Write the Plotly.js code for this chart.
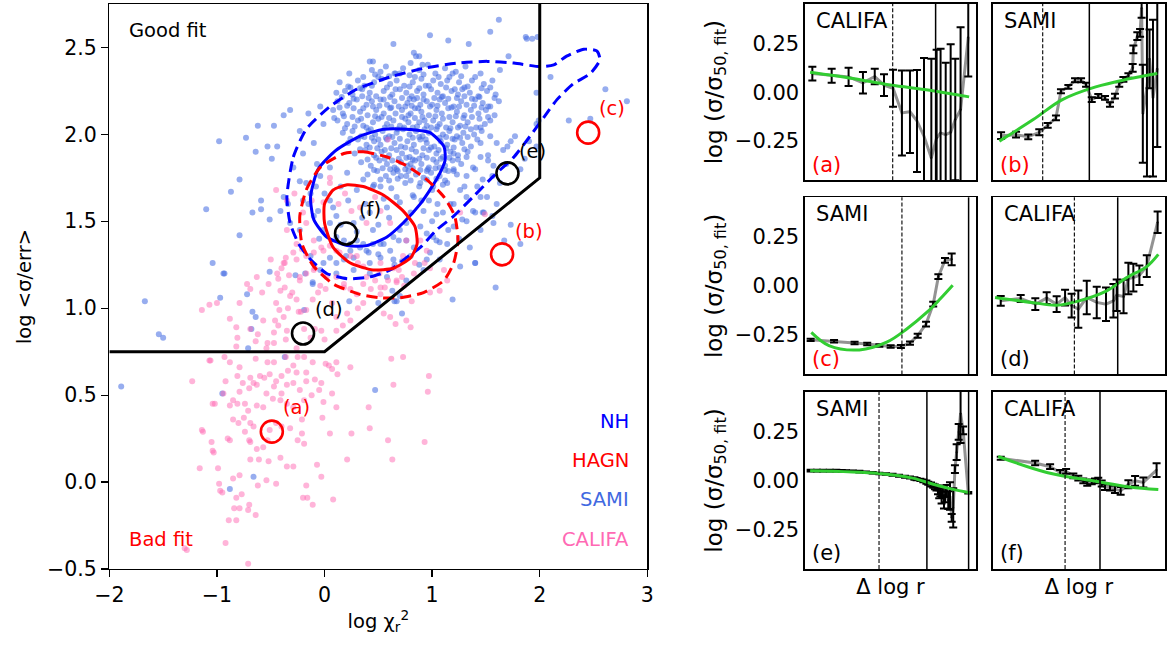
<!DOCTYPE html>
<html><head><meta charset="utf-8">
<script src="https://cdn.plot.ly/plotly-3.0.1.min.js"></script>
<style>html,body{margin:0;padding:0;background:#fff}#plot{width:1167px;height:646px}</style>
</head><body><div id="plot"></div>
<script>
// ---------- main panel data ----------
const samiPts = [
[1.62,2.66],[1.54,2.59],[1.34,2.52],[1.15,2.54],[0.98,2.57],[0.64,2.52],[0.45,2.42],[0.42,2.42],[0.80,2.41],[0.83,2.47],[0.88,2.45],[1.71,2.45],[1.88,2.55],[1.98,2.56],[1.63,2.37],[1.97,2.24],[2.61,2.26],[2.47,2.09],[2.27,2.08],[2.10,2.33],[1.97,2.06],[1.90,1.96],[1.97,1.93],[1.86,1.86],[1.82,1.80],[1.73,1.96],[1.66,1.91],[1.52,1.88],[1.57,1.82],[1.47,1.74],[1.42,1.70],[1.32,1.64],[1.45,1.64],[1.48,1.55],[1.57,1.49],[1.32,1.50],[1.20,1.47],[1.14,1.37],[1.04,1.39],[1.26,1.24],[1.59,1.12],[1.82,1.37],[1.73,1.48],
[-0.32,2.14],[-0.23,2.02],[-0.15,2.12],[-0.04,2.16],[-0.01,2.06],[-0.10,1.95],[-0.20,1.89],[-0.29,1.81],[-0.38,1.64],[-0.34,1.60],[-0.41,1.56],[-0.23,1.73],[-0.13,1.66],[0.11,2.24],[0.24,2.27],[0.14,2.30],[0.36,2.33],[0.52,2.36],[0.66,2.35],[0.23,2.35],
[0.85,2.45],[0.91,2.40],[1.87,2.56],[1.93,2.55],[2.81,2.19],[1.99,2.08],[1.77,1.99],[1.70,1.93],[1.52,1.85],[1.56,1.76],[1.40,1.55],[1.28,1.51],[1.40,1.26],[1.47,1.55],[-0.98,1.96],[-1.10,1.57],[-0.79,1.74],[-0.87,1.67],[-0.62,2.05],[-0.47,2.05],[-0.73,1.98],[-0.64,1.90],[-0.53,1.93],[-0.44,1.93],[-0.49,1.86],[-0.59,1.62],[-0.59,1.57],[-0.67,1.55],[-0.51,1.51],[-1.04,1.26],[-0.94,1.20],[-0.38,2.11],[1.56,1.53],[1.67,1.39],
[-0.32,1.49],[-0.23,1.45],[-0.10,1.53],[-0.01,1.45],[-0.13,1.30],[-0.04,1.22],[0.11,1.20],[0.27,1.22],[0.42,1.20],[0.58,1.18],[0.76,1.16],[0.92,1.22],[1.07,1.28],[1.01,1.41],[0.89,1.47],[0.76,1.49],[0.64,1.41],[0.52,1.37],[0.39,1.33],[0.24,1.37],[0.11,1.41],[0.05,1.49],[-0.06,1.56],[0.11,1.53],[0.27,1.49],[0.42,1.55],[0.58,1.58],[0.67,1.64],[0.52,1.70],[0.36,1.74],[0.21,1.78],[0.05,1.81],[-0.07,1.83],[-0.04,1.76],[-0.17,1.72],[-0.20,1.62],[0.83,1.64],[0.92,1.56],[1.04,1.54],[1.17,1.60],[1.26,1.68],[1.14,1.72],[1.01,1.70],[0.89,1.72],[0.76,1.76],[0.67,1.80],[0.80,1.83],[0.95,1.79],[1.07,1.81],[1.20,1.79],[1.32,1.76],[1.38,1.81],[1.45,1.87],[1.32,1.87],[1.20,1.89],[1.60,1.95],[1.54,1.99],[1.45,1.95],[1.69,1.83],[1.63,1.72],[1.51,1.64],[1.60,1.60],[1.38,1.56],
[-0.15,1.60],[-0.08,1.70],[0.00,1.66],[0.08,1.58],[0.15,1.70],[0.22,1.62],[0.30,1.68],[0.38,1.60],[0.45,1.70],[0.15,1.48],[0.30,1.44],[0.45,1.45],[0.60,1.52],[0.70,1.45],[0.80,1.55],[0.90,1.62],[1.00,1.50],[1.10,1.55],[1.15,1.45],[0.95,1.43],[0.05,1.62],[0.35,1.52],[0.50,1.48],[-0.05,1.40],[0.20,1.30],[0.50,1.31],[0.65,1.25],[0.80,1.30],[0.95,1.28],[1.25,1.40],[1.35,1.35],[1.45,1.45],[1.20,1.60],[1.30,1.70],[1.40,1.80],
[0.47,0.53],[-0.95,0.51],[-0.88,-0.04],[-0.66,0.03],[-0.37,0.72],[-0.71,0.77],[-0.93,1.20],[-0.97,1.06],[-0.72,1.08],[-0.67,0.98],[-0.64,0.95],[-0.68,0.88],[-1.54,0.85],[-1.50,0.83],[-0.79,1.42],[-0.51,1.21],[-0.27,1.19],[1.19,1.05],[1.40,1.26],[0.88,1.25],[0.98,1.32],[1.07,1.38],[0.23,1.04],[0.67,1.04],[0.50,1.03],[0.63,1.10],[0.70,1.07],[-0.11,1.15],[-0.19,0.99],[-1.89,0.55],[-1.67,1.04],[0.72,0.97],[0.65,1.04],
[-0.18,1.20],[-0.11,1.14],[0.05,1.29],[-0.01,1.26],[0.11,1.26],[0.18,1.28],[0.27,1.29],[0.24,1.33],[0.33,1.35],[0.41,1.32],[0.45,1.37],[0.55,1.37],[0.61,1.33],[0.69,1.39],[0.76,1.39],[0.83,1.35],[0.42,1.26],[0.52,1.29],[0.64,1.28],[0.72,1.27],[0.36,1.37],[0.30,1.39],[0.18,1.39],
[0.44,2.37],[0.57,2.39],[0.65,2.35],[0.73,2.38],[0.79,2.34],[0.88,2.37],[0.96,2.40],[1.03,2.35],[1.12,2.38],[1.22,2.36],[1.31,2.39],[1.45,2.35],[0.50,2.33],[1.16,2.33],
[0.31,2.31],[0.37,2.28],[0.46,2.30],[0.53,2.32],[0.61,2.29],[0.67,2.31],[0.74,2.28],[0.82,2.30],[0.90,2.32],[0.94,2.28],[1.01,2.31],[1.08,2.29],[1.14,2.31],[1.25,2.30],[1.30,2.27],[1.37,2.31],[1.48,2.29],[1.56,2.31],
[0.19,2.25],[0.26,2.23],[0.35,2.26],[0.42,2.24],[0.48,2.22],[0.55,2.25],[0.63,2.23],[0.70,2.26],[0.76,2.24],[0.81,2.22],[0.86,2.25],[0.92,2.23],[0.99,2.26],[1.05,2.24],[1.10,2.22],[1.18,2.25],[1.24,2.23],[1.28,2.26],[1.35,2.24],[1.43,2.22],[1.51,2.25],[1.59,2.23],[0.72,2.21],[1.02,2.21],
[0.12,2.19],[0.23,2.18],[0.30,2.20],[0.39,2.17],[0.44,2.19],[0.52,2.20],[0.58,2.17],[0.65,2.19],[0.69,2.16],[0.77,2.18],[0.83,2.20],[0.89,2.17],[0.95,2.19],[1.00,2.17],[1.07,2.20],[1.12,2.18],[1.20,2.16],[1.27,2.19],[1.32,2.17],[1.40,2.20],[1.47,2.18],[1.54,2.16],[1.62,2.19],
[0.08,2.14],[0.17,2.12],[0.27,2.15],[0.33,2.13],[0.40,2.11],[0.48,2.14],[0.55,2.12],[0.61,2.15],[0.66,2.12],[0.72,2.14],[0.80,2.12],[0.84,2.15],[0.90,2.13],[0.97,2.11],[1.04,2.14],[1.09,2.12],[1.15,2.15],[1.23,2.13],[1.30,2.11],[1.36,2.14],[1.43,2.12],[1.50,2.14],[1.58,2.11],[0.75,2.09],[0.93,2.08],
[0.12,2.08],[0.21,2.06],[0.31,2.08],[0.36,2.05],[0.45,2.07],[0.50,2.09],[0.58,2.06],[0.64,2.08],[0.70,2.05],[0.78,2.07],[0.82,2.04],[0.88,2.07],[0.95,2.05],[1.01,2.08],[1.07,2.06],[1.13,2.04],[1.19,2.07],[1.26,2.05],[1.33,2.07],[1.41,2.04],[1.49,2.06],[1.54,2.08],
[0.17,2.01],[0.26,2.02],[0.34,1.99],[0.41,2.02],[0.47,2.00],[0.54,2.02],[0.60,1.99],[0.67,2.01],[0.73,2.03],[0.79,2.00],[0.85,2.02],[0.91,1.99],[0.97,2.01],[1.04,2.03],[1.10,2.00],[1.16,2.02],[1.23,1.99],[1.29,2.01],[1.39,2.00],[1.46,2.02],
[0.22,1.95],[0.31,1.97],[0.39,1.94],[0.46,1.96],[0.52,1.94],[0.58,1.97],[0.65,1.95],[0.71,1.93],[0.77,1.96],[0.83,1.94],[0.89,1.97],[0.95,1.95],[1.02,1.93],[1.08,1.96],[1.14,1.94],[1.21,1.97],[1.28,1.95],[1.36,1.93],
[0.28,1.89],[0.38,1.91],[0.46,1.88],[0.53,1.90],[0.60,1.88],[0.67,1.91],[0.72,1.89],[0.79,1.87],[0.85,1.90],[0.91,1.88],[0.97,1.91],[1.04,1.89],[1.10,1.87],[1.17,1.90],[1.24,1.88],[1.33,1.90],
[0.34,1.84],[0.43,1.82],[0.51,1.85],[0.58,1.83],[0.65,1.81],[0.71,1.84],[0.77,1.82],[0.84,1.85],[0.90,1.83],[0.97,1.81],[1.04,1.84],[1.12,1.82],[1.19,1.85],[1.27,1.83],
[0.40,1.77],[0.49,1.79],[0.57,1.76],[0.64,1.78],[0.71,1.76],[0.78,1.79],[0.85,1.77],[0.92,1.75],[0.99,1.78],[1.07,1.76],[1.15,1.79],[1.23,1.77],
[0.46,1.71],[0.62,1.69],[0.75,1.72],[0.88,1.70],[1.00,1.68],[1.10,1.71],[0.55,1.63],[0.70,1.61],[0.82,1.65],[0.97,1.62],[1.05,1.60],
[0.47,2.345],[0.60,2.335],[0.70,2.35],[0.84,2.33],[0.92,2.345],[1.06,2.33],[1.19,2.35],[1.27,2.335],[1.40,2.33],
[0.22,2.275],[0.33,2.265],[0.44,2.28],[0.58,2.27],[0.66,2.26],[0.79,2.275],[0.88,2.265],[0.97,2.28],[1.13,2.27],[1.21,2.26],[1.33,2.275],[1.46,2.265],[1.54,2.27],
[0.16,2.215],[0.27,2.205],[0.35,2.22],[0.41,2.21],[0.55,2.20],[0.61,2.215],[0.79,2.205],[0.86,2.21],[0.92,2.20],[1.09,2.215],[1.15,2.205],[1.23,2.21],[1.30,2.22],[1.37,2.205],[1.44,2.215],[1.58,2.21],
[0.14,2.155],[0.21,2.165],[0.36,2.15],[0.45,2.16],[0.51,2.165],[0.62,2.155],[0.75,2.16],[0.81,2.165],[0.87,2.15],[0.98,2.16],[1.05,2.165],[1.18,2.155],[1.25,2.16],[1.39,2.165],[1.46,2.155],[1.52,2.16],
[0.09,2.095],[0.18,2.105],[0.26,2.10],[0.34,2.09],[0.47,2.105],[0.53,2.10],[0.60,2.095],[0.72,2.10],[0.78,2.11],[0.84,2.095],[0.91,2.10],[1.03,2.105],[1.10,2.09],[1.16,2.10],[1.22,2.105],[1.29,2.095],[1.37,2.10],[1.44,2.09],[1.52,2.10],
[0.19,2.035],[0.28,2.045],[0.39,2.04],[0.43,2.03],[0.56,2.04],[0.62,2.045],[0.68,2.03],[0.74,2.04],[0.86,2.045],[0.93,2.03],[0.99,2.04],[1.05,2.045],[1.17,2.035],[1.24,2.04],[1.31,2.045],[1.36,2.03],[1.45,2.04],
[0.24,1.975],[0.37,1.985],[0.44,1.98],[0.50,1.97],[0.57,1.98],[0.63,1.985],[0.70,1.975],[0.82,1.98],[0.88,1.985],[0.94,1.97],[1.07,1.98],[1.13,1.985],[1.19,1.975],[1.26,1.98],[1.33,1.985],[1.42,1.97],
[0.33,1.915],[0.42,1.925],[0.49,1.92],[0.56,1.91],[0.62,1.92],[0.75,1.925],[0.81,1.915],[0.92,1.92],[0.99,1.925],[1.06,1.91],[1.13,1.92],[1.20,1.925],[1.30,1.915],
[0.40,1.855],[0.48,1.865],[0.56,1.86],[0.63,1.85],[0.69,1.86],[0.76,1.865],[0.82,1.855],[0.88,1.86],[0.95,1.865],[1.01,1.855],[1.08,1.86],[1.16,1.865],[1.24,1.855],
[0.46,1.795],[0.54,1.805],[0.61,1.80],[0.68,1.79],[0.75,1.80],[0.82,1.805],[0.89,1.795],[0.96,1.80],[1.03,1.805],[1.12,1.795],[1.20,1.80],
[0.52,1.74],[0.60,1.735],[0.68,1.745],[0.80,1.735],[0.95,1.74],[1.04,1.745],[1.12,1.735]
];
const califaPts = [
[-1.06,0.70],[-0.93,0.72],[-1.23,0.58],[-0.79,0.66],[-0.69,0.60],[-0.64,0.71],[-0.53,0.69],[-0.47,0.69],[-0.36,0.72],[-0.29,0.67],[-0.25,0.72],[-0.19,0.72],[-0.11,0.69],[-0.17,0.63],[-0.26,0.63],[-0.34,0.64],[-0.40,0.61],[-0.45,0.58],[-0.51,0.62],[-0.56,0.60],[-0.60,0.61],[-0.63,0.56],[-0.66,0.57],[-0.70,0.54],[-0.76,0.57],[-0.81,0.61],[-0.79,0.52],[-0.85,0.47],[-0.81,0.45],[-0.74,0.45],[-0.71,0.41],[-0.63,0.44],[-0.57,0.43],[-0.54,0.51],[-0.47,0.55],[-0.40,0.51],[-0.35,0.56],[-0.29,0.57],[-0.23,0.53],[-0.17,0.58],[-0.09,0.59],[-0.05,0.53],[0.01,0.68],[0.04,0.67],[0.11,0.69],[0.07,0.65],[0.12,0.62],[-0.03,0.57],[0.07,0.51],[-0.01,0.46],[-0.12,0.50],[-0.19,0.47],[-0.29,0.43],[-0.35,0.45],[-0.41,0.47],[-0.48,0.48],
[-1.04,0.45],[-1.02,0.45],[-0.94,0.51],[-0.88,0.44],[-0.85,0.36],[-0.80,0.34],[-0.75,0.37],[-0.69,0.34],[-0.66,0.32],[-0.74,0.29],[-0.70,0.24],[-0.69,0.23],[-0.63,0.19],[-0.57,0.20],[-0.53,0.24],[-0.51,0.30],[-0.45,0.34],[-0.40,0.32],[-0.32,0.31],[-0.25,0.24],[-0.19,0.22],[-0.21,0.36],[-0.21,0.28],[-0.88,0.24],[-0.90,0.25],[-1.05,0.23],[-1.13,0.29],[-1.16,0.08],[-0.99,0.08],[-0.97,-0.05],[-0.95,-0.06],[-0.82,-0.09],[-0.77,-0.07],[-0.84,-0.15],[-0.79,-0.15],[-0.70,-0.13],[-0.71,-0.16],[-0.64,-0.19],[-0.82,-0.22],[-0.89,-0.22],[-0.85,0.02],[-1.03,0.17],[-0.69,0.13],[-0.61,0.13],[-0.52,0.12],[-0.54,0.01],[-0.62,-0.02],[-0.45,-0.01],[-0.41,0.14],[-0.35,0.09],[-0.29,0.09],[-0.17,-0.02],[-0.20,-0.09],[-0.16,-0.09],[-0.11,-0.13],[-0.07,0.10],[-0.03,0.03],[0.08,-0.10],[0.21,0.13],[0.42,0.31],[0.59,0.24],[0.63,0.13],[0.93,0.23],[0.97,0.61],[0.96,0.52],[0.64,0.56],[0.73,0.72],[0.62,0.71],[0.05,0.28],[-0.02,0.37],[0.11,0.43],[0.24,0.66],[0.41,0.43],[-1.28,-0.39],[-0.92,-0.35],[-0.71,-0.47],[-0.98,-0.01],[-0.79,0.04],[-0.92,0.58],[-0.88,0.69],[-1.30,-0.38],[-1.14,0.30],[-1.04,0.18],[-1.07,0.70],[0.25,0.28],
[-1.14,0.99],[-1.07,1.02],[-1.00,1.03],[-0.81,0.83],[-0.82,0.78],[-0.69,0.88],[-0.54,0.77],[-0.53,0.80],[-0.47,0.86],[-0.43,0.90],[-0.42,0.99],[-0.45,1.03],[-0.41,1.10],[-0.37,1.12],[-0.32,1.07],[-0.30,1.09],[-0.26,1.05],[-0.22,0.98],[-0.17,0.99],[-0.11,1.05],[-0.06,1.09],[-0.04,1.13],[0.01,1.11],[0.07,1.03],[0.11,0.95],[0.21,0.97],[0.24,0.93],[0.17,0.90],[0.11,0.87],[0.00,0.82],[-0.03,0.87],[-0.09,0.88],[-0.13,0.83],[-0.19,0.88],[-0.24,0.98],[-0.34,1.00],[-0.38,0.95],[-0.46,0.93],[-0.57,0.93],[-0.62,0.85],[-0.64,0.81],[-0.47,0.80],[-0.36,0.82],[-0.26,0.77],[-0.35,0.87],[0.31,1.00],[0.36,1.03],[0.30,1.08],[0.24,1.11],[0.18,1.14],[0.11,1.18],[-0.01,1.20],[-0.09,1.23],[-0.17,1.20],[-0.23,1.16],[-0.33,1.19],[-0.40,1.23],[-0.44,1.20],[-0.50,1.28],[-0.37,1.26],[-0.43,1.17],[-0.63,1.18],[-0.52,1.14],[-0.58,1.09],[-0.69,1.11],[-0.72,1.14],[-0.79,1.03],[-0.88,0.94],[-0.82,0.89],[0.43,1.11],[0.52,1.08],[0.56,1.12],[0.59,1.16],[0.67,1.15],[0.74,1.13],[0.55,0.97],[0.61,0.95],[0.66,0.91],[0.80,0.89],[0.76,0.93],[0.81,1.04],[0.98,1.09],[1.07,1.10],[1.14,1.16],[1.11,1.22],[0.93,1.26],[0.64,1.23],[0.69,1.22],[0.72,1.18],[0.39,1.18],[0.47,1.16],[0.51,1.20],[0.36,1.24],[0.31,1.26],[0.24,1.30],[0.11,1.33],[0.05,1.36],[-0.03,1.35],[-0.10,1.32],[-0.17,1.30],[-0.21,1.34],[-0.26,1.28],[-0.29,1.32],[-0.36,1.29],
[-0.01,1.61],[0.13,1.60],[0.25,1.56],[0.33,1.58],[0.19,1.66],[0.05,1.72],[0.59,1.97],[0.47,1.64],[0.39,1.49],[0.52,1.56],[0.61,1.49],[0.76,1.39],[0.89,1.39],[0.95,1.33],[0.84,1.26],[0.73,1.30],[0.52,1.26],[0.30,1.30],[0.14,1.32],[-0.01,1.33],[-0.10,1.39],[-0.17,1.49],[-0.26,1.37],[-0.35,1.45],[-0.38,1.26],[-0.23,1.18],[-0.10,1.22],[0.02,1.18],[0.18,1.12],[0.36,1.14],[0.52,1.12],[0.67,1.16],[0.83,1.20],[0.98,1.23],[1.26,1.55],[1.49,1.54],[-0.35,1.62],[-0.28,1.66],[-0.45,1.68],[-0.20,1.55],[-0.12,1.62],[0.05,1.75]
];
const samiX = samiPts.map(p => p[0]), samiY = samiPts.map(p => p[1]);
const califaX = califaPts.map(p => p[0]), califaY = califaPts.map(p => p[1]);

// contours (NH blue, HAGN red)
const nhOuterX = [-0.35,-0.29,-0.17,0.05,0.30,0.61,0.92,1.23,1.51,1.76,2.00,2.13,2.25,2.41,2.53,2.56,2.47,2.31,2.16,2.04,1.91,1.76,1.57,1.38,1.20,1.04,0.89,0.76,0.61,0.42,0.21,0.02,-0.13,-0.24,-0.32,-0.35];
const nhOuterY = [1.64,1.87,2.03,2.16,2.26,2.33,2.38,2.41,2.42,2.41,2.39,2.40,2.45,2.49,2.48,2.43,2.35,2.29,2.20,2.10,1.99,1.87,1.76,1.64,1.53,1.45,1.35,1.29,1.22,1.18,1.17,1.20,1.28,1.37,1.49,1.64];
const nhInnerX = [0.76,0.98,1.11,1.12,1.04,0.89,0.73,0.58,0.39,0.21,0.02,-0.10,-0.13,-0.06,0.11,0.33,0.55,0.76];
const nhInnerY = [2.03,2.01,1.93,1.85,1.74,1.60,1.49,1.41,1.36,1.36,1.41,1.51,1.64,1.80,1.91,1.99,2.03,2.03];
const hagnOuterX = [0.18,0.36,0.58,0.76,0.95,1.11,1.21,1.24,1.20,1.11,0.92,0.70,0.52,0.33,0.08,-0.10,-0.21,-0.23,-0.17,-0.04,0.18];
const hagnOuterY = [1.89,1.90,1.87,1.82,1.74,1.64,1.53,1.39,1.26,1.16,1.09,1.06,1.06,1.08,1.14,1.24,1.37,1.53,1.68,1.81,1.89];
const hagnInnerX = [0.21,0.36,0.55,0.73,0.84,0.86,0.80,0.64,0.45,0.24,0.08,0.00,0.00,0.08,0.21];
const hagnInnerY = [1.71,1.70,1.65,1.56,1.47,1.37,1.29,1.23,1.22,1.26,1.35,1.49,1.60,1.68,1.71];

// good/bad fit boundary
const boundX = [-2, 0, 2, 2];
const boundY = [0.75, 0.75, 1.75, 2.75];

// highlighted galaxies
const selLabels = ['(a)','(b)','(c)','(d)','(e)','(f)'];
const selX = [-0.49, 1.65, 2.45, -0.20, 1.70, 0.20];
const selY = [0.29, 1.31, 2.01, 0.855, 1.776, 1.43];
const selColors = ['red','red','red','black','black','black'];
const selLabX = [-0.26, 1.90, 2.67, 0.04, 1.93, 0.42];
const selLabY = [0.43, 1.44, 2.15, 0.99, 1.90, 1.57];

// ---------- profile panels ----------
const aX = [0.043,0.156,0.255,0.339,0.408,0.462,0.515,0.567,0.614,0.655,0.696,0.739,0.770,0.793,0.823,0.852,0.879,0.910,0.955];
const aY = [0.095,0.084,0.078,0.048,0.080,0.036,0.020,-0.106,-0.100,-0.147,-0.225,-0.336,-0.234,-0.208,-0.217,-0.205,-0.140,-0.089,0.280];
const aErr = [0.035,0.036,0.046,0.055,0.039,0.055,0.095,0.217,0.210,0.260,0.400,0.506,0.450,0.430,0.367,0.450,0.310,0.420,0.200];
const aFitX = [0.03,0.28,0.50,0.73,0.96];
const aFitY = [0.102,0.070,0.036,0.010,-0.024];
const aDash = [0.513], aSolid = [0.764];

const bX = [0.047,0.134,0.205,0.269,0.318,0.366,0.395,0.438,0.477,0.512,0.541,0.574,0.612,0.651,0.680,0.709,0.734,0.758,0.787,0.812,0.816,0.839,0.855,0.864,0.871,0.895,0.910,0.930,0.955];
const bY = [-0.222,-0.217,-0.228,-0.205,-0.170,-0.131,0.005,0.027,0.061,0.061,0.038,-0.038,-0.020,-0.029,-0.063,-0.020,0.039,0.065,0.085,0.124,0.218,0.286,0.303,0.430,-0.110,0.020,0.170,-0.030,0.120];
const bErr = [0.017,0.015,0.012,0.015,0.012,0.012,0.010,0.010,0.010,0.010,0.010,0.012,0.010,0.010,0.012,0.012,0.012,0.012,0.012,0.020,0.020,0.020,0.020,0.050,0.250,0.450,0.150,0.400,0.400];
const bFitX = [0.037,0.234,0.403,0.597,0.791,0.955];
const bFitY = [-0.250,-0.140,-0.038,0.027,0.068,0.095];
const bDash = [0.289], bSolid = [0.560];

const cX = [0.033,0.170,0.290,0.364,0.435,0.501,0.561,0.614,0.659,0.708,0.750,0.780,0.819,0.858];
const cY = [-0.274,-0.281,-0.290,-0.295,-0.303,-0.308,-0.308,-0.291,-0.253,-0.194,-0.093,0.047,0.130,0.135];
const cErr = [0.006,0.006,0.006,0.006,0.006,0.006,0.008,0.008,0.010,0.012,0.012,0.012,0.012,0.030];
const cFitX = [0.037,0.14,0.318,0.478,0.595,0.712,0.79,0.864];
const cFitY = [-0.236,-0.303,-0.325,-0.286,-0.219,-0.135,-0.067,0.003];
const cDash = [0.567], cSolid = [0.957];

const dX = [0.045,0.161,0.246,0.312,0.370,0.419,0.457,0.496,0.545,0.603,0.657,0.700,0.719,0.759,0.787,0.816,0.851,0.894,0.957];
const dY = [-0.076,-0.064,-0.093,-0.062,-0.093,-0.059,-0.100,-0.118,-0.059,-0.084,-0.093,-0.076,-0.047,-0.054,0.037,0.042,0.054,0.100,0.323];
const dErr = [0.025,0.018,0.030,0.030,0.040,0.040,0.060,0.095,0.085,0.080,0.085,0.085,0.080,0.085,0.080,0.070,0.050,0.055,0.055];
const dFitX = [0.012,0.226,0.37,0.50,0.661,0.777,0.894,0.961];
const dFitY = [-0.059,-0.084,-0.098,-0.076,-0.025,0.042,0.098,0.160];
const dDash = [0.473], dSolid = [0.725];

const eX = [0.033,0.070,0.105,0.145,0.183,0.215,0.240,0.280,0.318,0.357,0.396,0.435,0.474,0.512,0.550,0.585,0.614,0.640,0.653,0.675,0.692,0.710,0.721,0.737,0.750,0.760,0.769,0.778,0.785,0.792,0.799,0.806,0.813,0.820,0.829,0.838,0.848,0.858,0.867,0.877,0.887,0.899,0.910,0.925,0.955];
const eY = [0.050,0.050,0.050,0.050,0.050,0.049,0.048,0.047,0.045,0.042,0.039,0.036,0.033,0.029,0.024,0.019,0.015,0.010,0.007,0.003,-0.002,-0.008,-0.014,-0.020,-0.027,-0.033,-0.039,-0.055,-0.070,-0.060,-0.087,-0.050,-0.113,-0.075,-0.053,-0.100,-0.079,-0.190,-0.139,0.058,0.144,0.247,0.340,0.255,-0.062];
const eErr = [0.004,0.004,0.004,0.004,0.004,0.004,0.004,0.004,0.004,0.004,0.004,0.004,0.004,0.005,0.005,0.005,0.005,0.006,0.006,0.006,0.007,0.008,0.008,0.010,0.010,0.012,0.012,0.015,0.020,0.020,0.030,0.025,0.030,0.035,0.030,0.045,0.070,0.020,0.100,0.020,0.040,0.040,0.150,0.020,0.004];
const eFitX = [0.03,0.435,0.63,0.75,0.867,0.965];
const eFitY = [0.050,0.036,0.012,-0.019,-0.045,-0.062];
const eDash = [0.433], eSolid = [0.713,0.957];

const fX = [0.045,0.245,0.332,0.390,0.425,0.467,0.496,0.525,0.548,0.574,0.593,0.612,0.632,0.651,0.680,0.709,0.742,0.787,0.826,0.874,0.951];
const fY = [0.113,0.089,0.070,0.041,0.046,0.024,0.012,-0.002,-0.015,-0.007,-0.002,0.002,-0.015,-0.033,-0.036,-0.045,-0.053,-0.019,-0.002,-0.010,0.053];
const fErr = [0.008,0.012,0.012,0.012,0.012,0.012,0.012,0.012,0.012,0.012,0.012,0.012,0.015,0.015,0.015,0.018,0.020,0.020,0.025,0.025,0.035];
const fFitX = [0.03,0.313,0.603,0.797,0.961];
const fFitY = [0.122,0.041,-0.005,-0.033,-0.046];
const fDash = [0.419], fSolid = [0.622];

const panelNames = ['CALIFA','SAMI','SAMI','CALIFA','SAMI','CALIFA'];
const panelTags = ['(a)','(b)','(c)','(d)','(e)','(f)'];
const panelTagColors = ['red','red','red','black','black','black'];

// ---------- build ----------
const FONT = 'DejaVu Sans, Arial, sans-serif';
const traces = [];
traces.push({x: samiX, y: samiY, mode:'markers', type:'scatter', xaxis:'x', yaxis:'y',
  marker:{size:6, color:'rgba(65,105,225,0.55)', line:{width:0}}, hoverinfo:'skip'});
traces.push({x: califaX, y: califaY, mode:'markers', type:'scatter', xaxis:'x', yaxis:'y',
  marker:{size:6, color:'rgba(255,105,180,0.5)', line:{width:0}}, hoverinfo:'skip'});
traces.push({x: nhOuterX, y: nhOuterY, mode:'lines', line:{color:'#0000ff', width:3, dash:'11px,6px', shape:'spline', smoothing:0.6}});
traces.push({x: nhInnerX, y: nhInnerY, mode:'lines', line:{color:'#0000ff', width:3, shape:'spline', smoothing:0.6}});
traces.push({x: hagnOuterX, y: hagnOuterY, mode:'lines', line:{color:'#ff0000', width:3, dash:'11px,6px', shape:'spline', smoothing:0.6}});
traces.push({x: hagnInnerX, y: hagnInnerY, mode:'lines', line:{color:'#ff0000', width:3, shape:'spline', smoothing:0.6}});
traces.push({x: boundX, y: boundY, mode:'lines', line:{color:'black', width:3}});
traces.push({x: selX, y: selY, mode:'markers', marker:{symbol:'circle-open', size:22, color:selColors, line:{width:2.6, color:selColors}}});

const pdata = [
 [aX,aY,aErr,aFitX,aFitY,aDash,aSolid],
 [bX,bY,bErr,bFitX,bFitY,bDash,bSolid],
 [cX,cY,cErr,cFitX,cFitY,cDash,cSolid],
 [dX,dY,dErr,dFitX,dFitY,dDash,dSolid],
 [eX,eY,eErr,eFitX,eFitY,eDash,eSolid],
 [fX,fY,fErr,fFitX,fFitY,fDash,fSolid]
];

const layout = {
  width:1167, height:646, margin:{l:0,r:0,t:0,b:0}, showlegend:false,
  paper_bgcolor:'white', plot_bgcolor:'white', font:{family:FONT, color:'black'},
  xaxis:{domain:[0.0937,0.5547], range:[-2,3], anchor:'y', tickvals:[-2,-1,0,1,2,3],
    ticks:'outside', ticklen:7, tickwidth:1.3, tickcolor:'black', showline:true, linecolor:'black',
    linewidth:1.5, mirror:true, showgrid:false, zeroline:false, tickfont:{size:20.5},
    title:{text:'log χ<sub>r</sub><sup>2</sup>', font:{size:19.5}, standoff:8}},
  yaxis:{domain:[0.1192,0.9938], range:[-0.5,2.75], anchor:'x', tickvals:[-0.5,0,0.5,1,1.5,2,2.5],
    tickformat:'.1f', ticks:'outside', ticklen:7, tickwidth:1.3, tickcolor:'black', showline:true,
    linecolor:'black', linewidth:1.5, mirror:true, showgrid:false, zeroline:false, tickfont:{size:20.5},
    title:{text:'log &lt;σ/err&gt;', font:{size:19.5}, standoff:10}},
  shapes:[], annotations:[]
};

const colDom = [[0.6898,0.8363],[0.8509,0.9983]];
const rowDom = [[0.7209,0.9938],[0.4203,0.6946],[0.1192,0.3932]];

pdata.forEach((p, i) => {
  const n = i + 2;
  const col = i % 2, row = Math.floor(i / 2);
  const xa = 'x' + n, ya = 'y' + n;
  traces.push({x:p[0], y:p[1], mode:'lines', xaxis:xa, yaxis:ya, line:{color:'rgba(120,120,120,0.8)', width:3}});
  traces.push({x:p[0], y:p[1], mode:'markers', xaxis:xa, yaxis:ya, marker:{size:2, color:'black'},
    error_y:{type:'data', array:p[2], visible:true, color:'black', thickness:2, width:4}});
  traces.push({x:p[3], y:p[4], mode:'lines', xaxis:xa, yaxis:ya, line:{color:'#32cd32', width:3, shape:'spline'}});
  const xax = {domain:colDom[col], range:[0,1], anchor:ya, showticklabels:false, ticks:'',
    showline:true, linecolor:'black', linewidth:1.6, mirror:true, showgrid:false, zeroline:false};
  if (row === 2) xax.title = {text:'Δ log r', font:{size:21}, standoff:10};
  const yax = {domain:rowDom[row], range:[-0.45,0.45], anchor:xa, tickvals:[-0.25,0,0.25],
    tickformat:'.2f', ticks:'', showticklabels: col === 0, tickfont:{size:21},
    showline:true, linecolor:'black', linewidth:1.6, mirror:true, showgrid:false, zeroline:false};
  if (col === 0) yax.title = {text:'log (σ/σ<sub>50, fit</sub>)', font:{size:23}, standoff:6};
  layout['xaxis' + n] = xax;
  layout['yaxis' + n] = yax;
  p[5].forEach(v => layout.shapes.push({type:'line', xref:xa, yref:ya + ' domain', x0:v, x1:v, y0:0, y1:1,
    line:{color:'black', width:1.1, dash:'4px,2px'}}));
  p[6].forEach(v => layout.shapes.push({type:'line', xref:xa, yref:ya + ' domain', x0:v, x1:v, y0:0, y1:1,
    line:{color:'black', width:1.5}}));
  layout.annotations.push({xref:xa + ' domain', yref:ya + ' domain', x:0.05, y:0.985, xanchor:'left', yanchor:'top',
    text:panelNames[i], showarrow:false, font:{size:21, color:'black'}});
  layout.annotations.push({xref:xa + ' domain', yref:ya + ' domain', x:0.03, y:0.01, xanchor:'left', yanchor:'bottom',
    text:panelTags[i], showarrow:false, font:{size:21, color:panelTagColors[i]}});
});

// main-panel texts
const mainTexts = [
  {t:'Good fit', x:-1.84, y:2.60, c:'black', a:'left'},
  {t:'Bad fit', x:-1.84, y:-0.33, c:'red', a:'left'},
  {t:'NH', x:2.85, y:0.35, c:'blue', a:'right'},
  {t:'HAGN', x:2.85, y:0.123, c:'red', a:'right'},
  {t:'SAMI', x:2.85, y:-0.103, c:'royalblue', a:'right'},
  {t:'CALIFA', x:2.85, y:-0.33, c:'hotpink', a:'right'}
];
mainTexts.forEach(m => layout.annotations.push({xref:'x', yref:'y', x:m.x, y:m.y, xanchor:m.a, yanchor:'middle',
  text:m.t, showarrow:false, font:{size:19.5, color:m.c}}));
selLabels.forEach((t, i) => layout.annotations.push({xref:'x', yref:'y', x:selLabX[i], y:selLabY[i],
  xanchor:'center', yanchor:'middle', text:t, showarrow:false, font:{size:19.5, color:selColors[i]}}));

Plotly.newPlot('plot', traces, layout, {displayModeBar:false, staticPlot:true});
</script></body></html>
